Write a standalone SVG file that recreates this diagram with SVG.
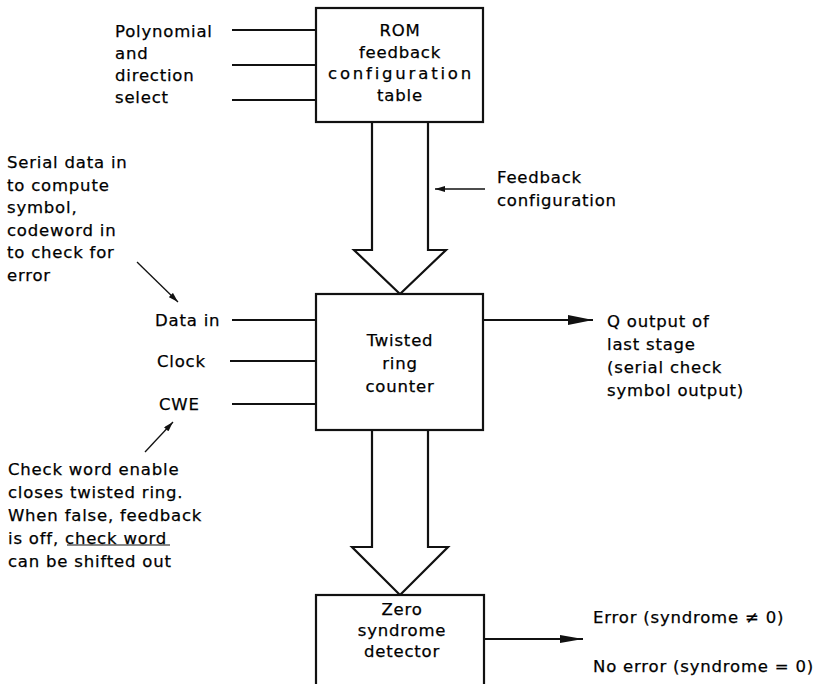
<svg xmlns="http://www.w3.org/2000/svg" width="819" height="684" viewBox="0 0 819 684">
<style>
text{font-family:"DejaVu Sans","Liberation Sans",sans-serif;font-size:16.5px;letter-spacing:0.8px;fill:#000;stroke:#000;stroke-width:0.25}
.c{text-anchor:middle}
.box{fill:#fff;stroke:#111;stroke-width:2.2}
.ln{fill:none;stroke:#111;stroke-width:2}
.thin{fill:none;stroke:#111;stroke-width:1.3}
.blk{fill:#fff;stroke:#111;stroke-width:2.2;stroke-linejoin:miter}
</style>
<defs>
<marker id="big" markerUnits="userSpaceOnUse" markerWidth="25" markerHeight="10" refX="25" refY="5" orient="auto"><path d="M0,0 L25,5 L0,10 Z" fill="#111"/></marker>
<marker id="mid" markerUnits="userSpaceOnUse" markerWidth="23" markerHeight="8" refX="23" refY="4" orient="auto"><path d="M0,0 L23,4 L0,8 Z" fill="#111"/></marker>
<marker id="sm" markerUnits="userSpaceOnUse" markerWidth="10" markerHeight="6" refX="10" refY="3" orient="auto"><path d="M0,0 L10,3 L0,6 Z" fill="#111"/></marker>
</defs>
<rect width="819" height="684" fill="#fff"/>

<g id="connectors">
<line class="ln" x1="232" y1="30" x2="316" y2="30"/>
<line class="ln" x1="232" y1="65" x2="316" y2="65"/>
<line class="ln" x1="232" y1="100" x2="316" y2="100"/>
<line class="ln" x1="232" y1="320" x2="316" y2="320"/>
<line class="ln" x1="230" y1="361" x2="316" y2="361"/>
<line class="ln" x1="232" y1="404" x2="316" y2="404"/>
<path class="blk" d="M372,122 V250 H354 L400,294 L446,250 H428 V122"/>
<path class="blk" d="M372,430 V547 H352 L400,595 L448,547 H428 V430"/>
<line class="ln" x1="484" y1="320" x2="593" y2="320" marker-end="url(#big)"/>
<line class="ln" x1="485" y1="639" x2="583" y2="639" marker-end="url(#mid)"/>
<line class="thin" x1="485" y1="189" x2="435" y2="189" marker-end="url(#sm)"/>
<line class="thin" x1="137" y1="262" x2="178" y2="302" marker-end="url(#sm)"/>
<line class="thin" x1="145" y1="452" x2="173" y2="422" marker-end="url(#sm)"/>
</g>

<g id="rom">
<rect class="box" x="316" y="8" width="167" height="114"/>
<text class="c" x="400" y="36">ROM</text>
<text class="c" x="400" y="58">feedback</text>
<text class="c" x="400" y="79" textLength="144" lengthAdjust="spacing">configuration</text>
<text class="c" x="400" y="101">table</text>
</g>

<g id="twisted">
<rect class="box" x="316" y="294" width="167" height="136"/>
<text class="c" x="400" y="346">Twisted</text>
<text class="c" x="400" y="369">ring</text>
<text class="c" x="400" y="392">counter</text>
</g>

<g id="zero">
<rect class="box" x="316" y="595" width="168" height="110"/>
<text class="c" x="402" y="615">Zero</text>
<text class="c" x="402" y="636">syndrome</text>
<text class="c" x="402" y="657">detector</text>
</g>

<g id="poly-label">
<text x="115" y="37">Polynomial</text>
<text x="115" y="59">and</text>
<text x="115" y="81">direction</text>
<text x="115" y="103">select</text>
</g>

<g id="serial-label">
<text x="7" y="168">Serial data in</text>
<text x="7" y="190.5">to compute</text>
<text x="7" y="213">symbol,</text>
<text x="7" y="235.5">codeword in</text>
<text x="7" y="258">to check for</text>
<text x="7" y="280.5">error</text>
</g>

<g id="inputs">
<text x="155" y="326">Data in</text>
<text x="157" y="367">Clock</text>
<text x="159" y="410">CWE</text>
</g>

<g id="cwe-label">
<text x="8" y="475">Check word enable</text>
<text x="8" y="498">closes twisted ring.</text>
<text x="8" y="521">When false, feedback</text>
<text x="8" y="544">is off, check word</text>
<text x="8" y="567">can be shifted out</text>
<line x1="67" y1="545" x2="170" y2="545" stroke="#111" stroke-width="1"/>
</g>

<g id="feedback-label">
<text x="497" y="183">Feedback</text>
<text x="497" y="206">configuration</text>
</g>

<g id="q-label">
<text x="607" y="327">Q output of</text>
<text x="607" y="350">last stage</text>
<text x="607" y="373">(serial check</text>
<text x="607" y="396">symbol output)</text>
</g>

<g id="error-label">
<text x="593" y="623">Error (syndrome ≠ 0)</text>
<text x="593" y="672">No error (syndrome = 0)</text>
</g>
</svg>
